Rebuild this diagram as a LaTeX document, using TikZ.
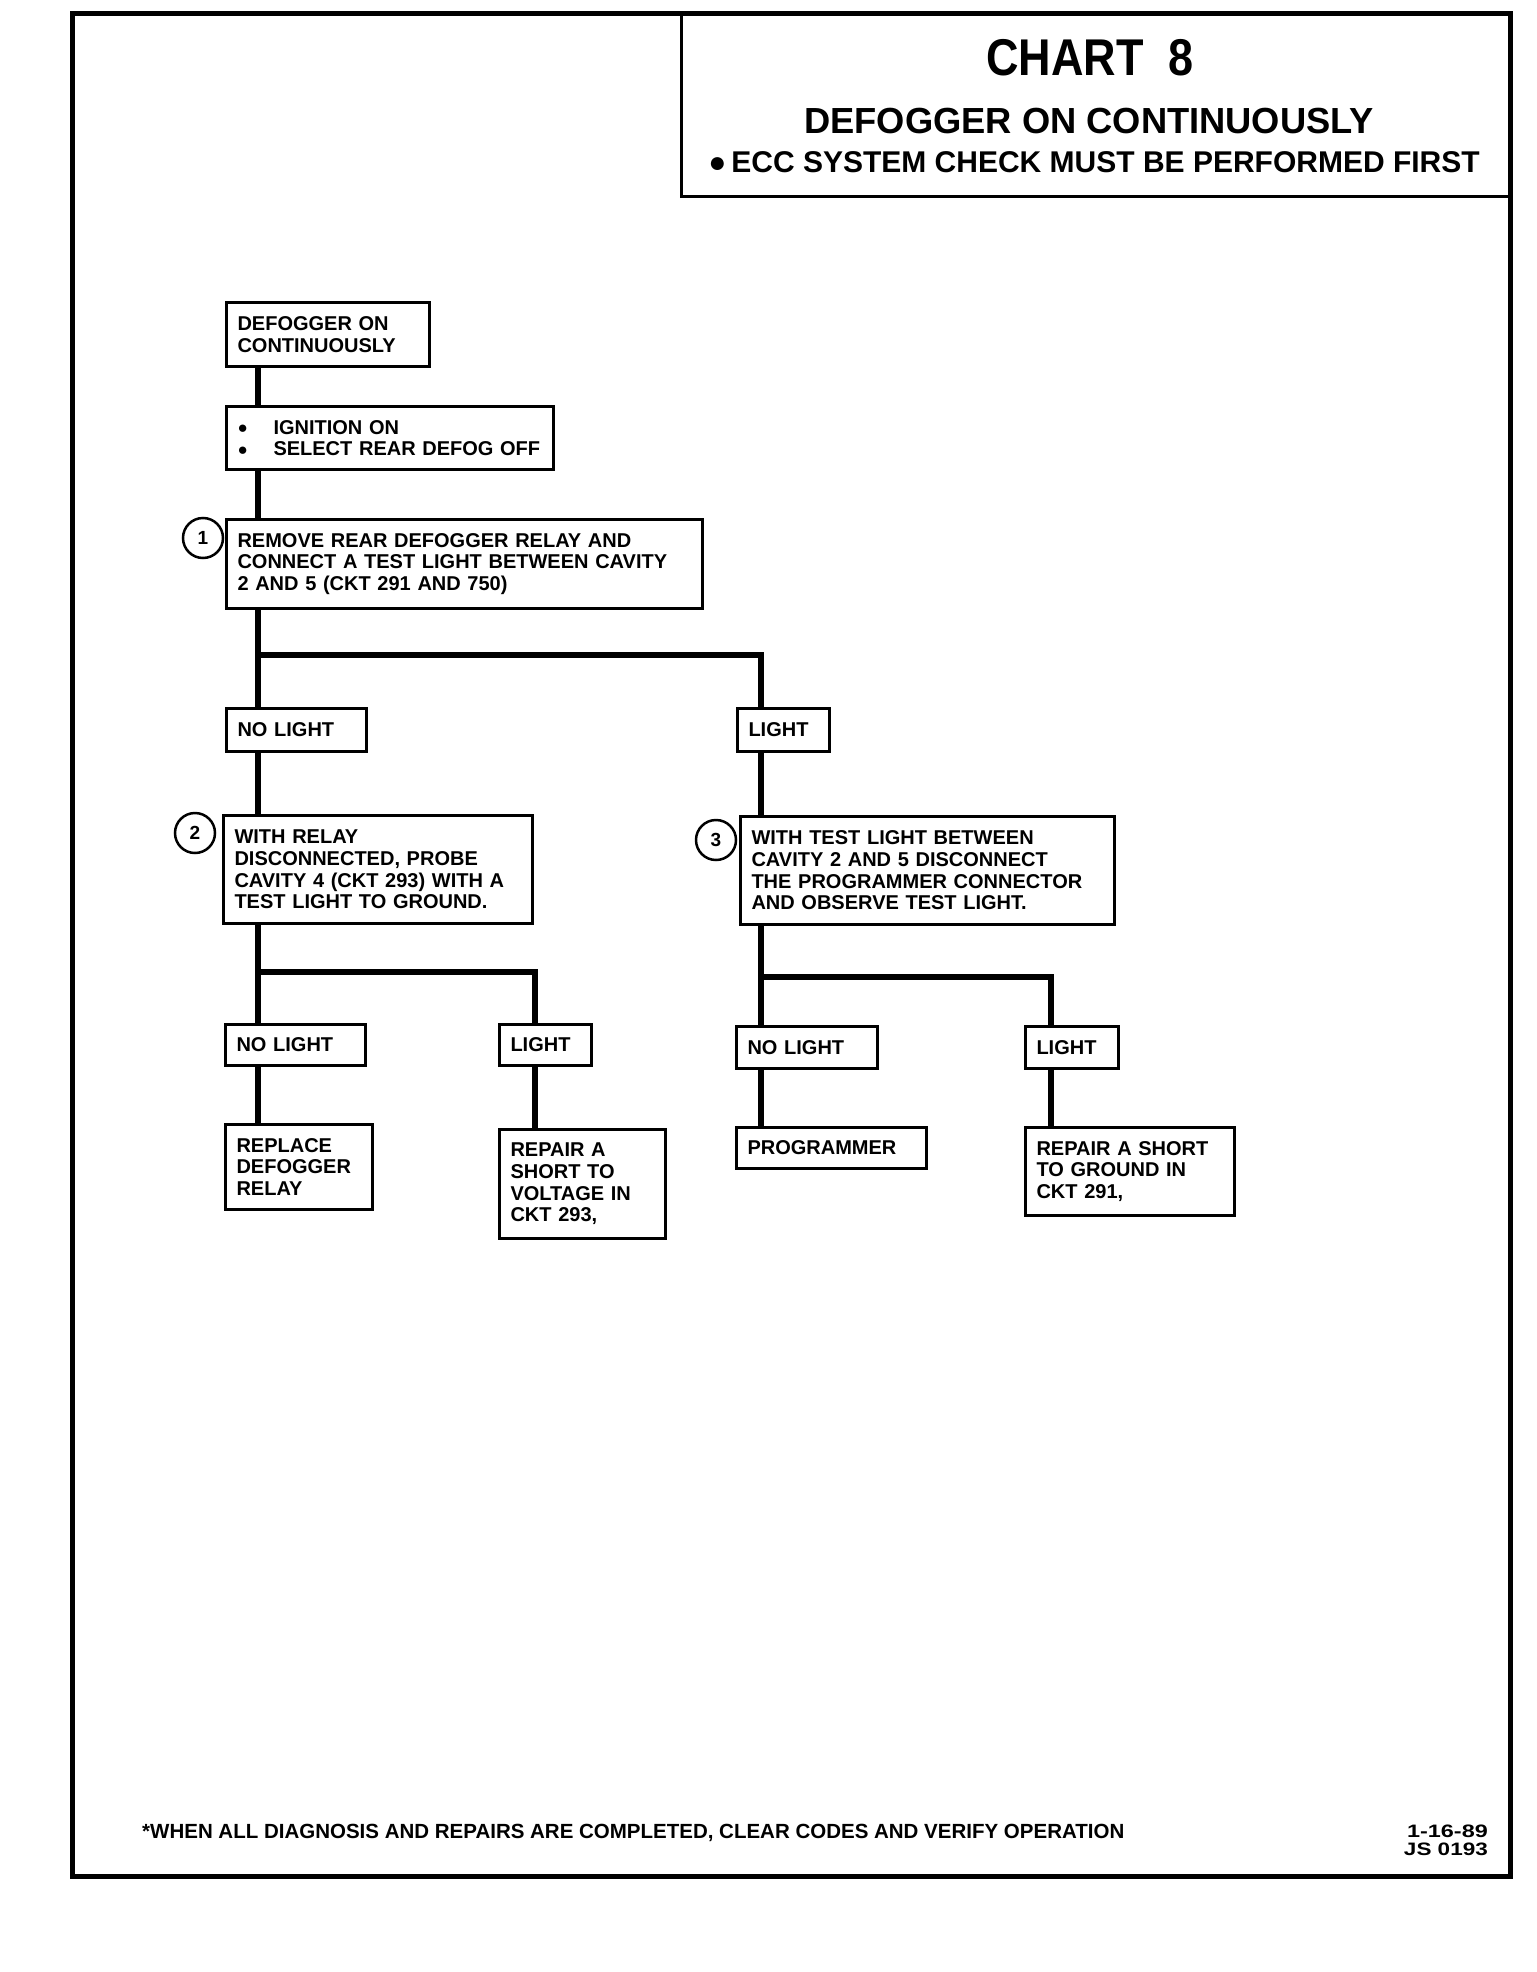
\documentclass[tikz,border=0pt]{standalone}
\usepackage{fontspec}
\setmainfont{Liberation Sans}
\usepackage{graphicx}
\tikzset{
  box/.style={draw, line width=3pt, anchor=north west, inner xsep=11pt, inner ysep=0pt,
    align=left, font=\fontsize{20}{21.7}\selectfont\bfseries},
  conn/.style={line width=6pt, line join=miter},
  num/.style={draw, circle, line width=2.5pt, minimum size=40pt, inner sep=0pt,
    font=\fontsize{19}{19}\selectfont\bfseries},
  frame/.style={line width=5pt},
  titlebox/.style={line width=3pt},
}
\newcommand{\bigdot}{\makebox[36pt][l]{\smash{\raisebox{0.5pt}{\fontsize{17}{17}\selectfont●}}}}
\begin{document}
\begin{tikzpicture}[x=1pt,y=-1pt]
\useasboundingbox (0,0) rectangle (1536,1972);
% frame and title box
\draw[frame] (72,14) rectangle (1510,1876);
\draw[titlebox] (681,14) -- (681,197) -- (1510,197);
\node[anchor=base, font=\fontsize{51.7}{52}\selectfont\bfseries] (t1) at (1090,76) {\scalebox{0.87}[1]{CHART\ \ 8}};
\node[anchor=base, font=\fontsize{36.3}{37}\selectfont\bfseries] (t2) at (1089,134) {DEFOGGER ON CONTINUOUSLY};
\node[anchor=base, font=\fontsize{30}{31}\selectfont\bfseries] (t3) at (1094,173) {●\,ECC SYSTEM CHECK MUST BE PERFORMED FIRST};

% boxes
\node[box, text width=181pt, minimum height=64pt] (A) at (225,301) {DEFOGGER ON\\CONTINUOUSLY};
\node[box, text width=305pt, minimum height=63pt] (B) at (225,405) {\bigdot IGNITION ON\\\bigdot SELECT REAR DEFOG OFF};
\node[box, text width=454pt, minimum height=89pt] (C) at (225,518) {REMOVE REAR DEFOGGER RELAY AND\\CONNECT A TEST LIGHT BETWEEN CAVITY\\2 AND 5 (CKT 291 AND 750)};
\node[num] (n1) at (203,538) {1};

\node[box, text width=118pt, minimum height=43pt] (NL1) at (225,707) {NO LIGHT};
\node[box, text width=70pt, minimum height=43pt] (L1) at (736,707) {LIGHT};

\node[box, text width=287pt, minimum height=108pt] (D2) at (222,814) {WITH RELAY\\DISCONNECTED, PROBE\\CAVITY 4 (CKT 293) WITH A\\TEST LIGHT TO GROUND.};
\node[num] (n2) at (195,833) {2};
\node[box, text width=352pt, minimum height=108pt] (D3) at (739,815) {WITH TEST LIGHT BETWEEN\\CAVITY 2 AND 5 DISCONNECT\\THE PROGRAMMER CONNECTOR\\AND OBSERVE TEST LIGHT.};
\node[num] (n3) at (716,840) {3};

\node[box, text width=118pt, minimum height=41pt] (NL2) at (224,1023) {NO LIGHT};
\node[box, text width=70pt, minimum height=41pt] (L2) at (498,1023) {LIGHT};
\node[box, text width=119pt, minimum height=42pt] (NL3) at (735,1025) {NO LIGHT};
\node[box, text width=71pt, minimum height=42pt] (L3) at (1024,1025) {LIGHT};

\node[box, text width=125pt, minimum height=85pt] (R1) at (224,1123) {REPLACE\\DEFOGGER\\RELAY};
\node[box, text width=144pt, minimum height=109pt] (R2) at (498,1128) {REPAIR A\\SHORT TO\\VOLTAGE IN\\CKT 293,};
\node[box, text width=168pt, minimum height=41pt] (P) at (735,1126) {PROGRAMMER};
\node[box, text width=187pt, minimum height=88pt] (R3) at (1024,1126) {REPAIR A SHORT\\TO GROUND IN\\CKT 291,};

% junction coordinates
\coordinate (sp) at (258,0);
\coordinate (b1) at (258,655);
\coordinate (b1r) at (761,655);
\coordinate (b2) at (258,972);
\coordinate (b2r) at (535,972);
\coordinate (b3) at (761,977);
\coordinate (b3r) at (1051,977);

% connectors
\draw[conn] (A.south -| sp) -- (B.north -| sp);
\draw[conn] (B.south -| sp) -- (C.north -| sp);
\draw[conn] (C.south -| b1) -- (b1) -- (b1r) -- (L1.north -| b1r);
\draw[conn] (b1) -- (NL1.north -| b1);
\draw[conn] (NL1.south -| b1) -- (D2.north -| b1);
\draw[conn] (L1.south -| b1r) -- (D3.north -| b1r);

\draw[conn] (D2.south -| b2) -- (b2) -- (b2r) -- (L2.north -| b2r);
\draw[conn] (b2) -- (NL2.north -| b2);
\draw[conn] (NL2.south -| b2) -- (R1.north -| b2);
\draw[conn] (L2.south -| b2r) -- (R2.north -| b2r);

\draw[conn] (D3.south -| b3) -- (b3) -- (b3r) -- (L3.north -| b3r);
\draw[conn] (b3) -- (NL3.north -| b3);
\draw[conn] (NL3.south -| b3) -- (P.north -| b3);
\draw[conn] (L3.south -| b3r) -- (R3.north -| b3r);

% footer
\node[anchor=base west, font=\fontsize{20.5}{21}\selectfont\bfseries, inner sep=0pt] (foot) at (142,1838) {*WHEN ALL DIAGNOSIS AND REPAIRS ARE COMPLETED, CLEAR CODES AND VERIFY OPERATION};
\node[anchor=base east, font=\fontsize{18}{18}\selectfont\bfseries, inner sep=0pt] (date1) at (1488,1837) {\scalebox{1.3}[1]{1-16-89}};
\node[anchor=base east, font=\fontsize{18}{18}\selectfont\bfseries, inner sep=0pt] (date2) at (1488,1855) {\scalebox{1.25}[1]{JS 0193}};
\end{tikzpicture}
\end{document}
